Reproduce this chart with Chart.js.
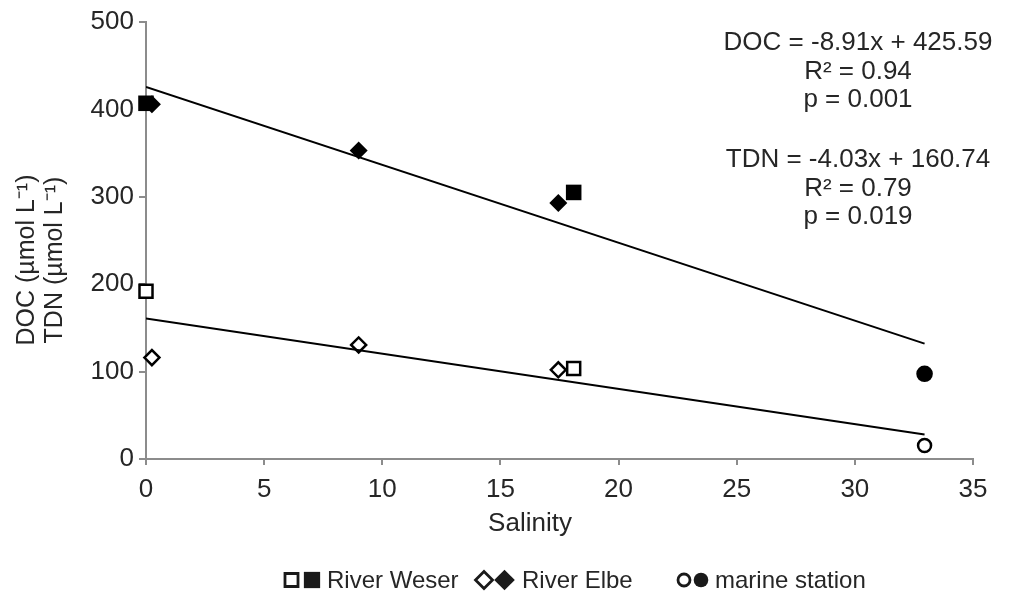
<!DOCTYPE html>
<html>
<head>
<meta charset="utf-8">
<script src="https://cdn.jsdelivr.net/npm/chart.js@4"></script>
<style>
  html, body { margin: 0; padding: 0; background: #fff; }
  #wrap { width: 1016px; height: 593px; }
</style>
</head>
<body>
<div id="wrap"><canvas id="salinityChart"></canvas></div>
<script>
  // ── Data ──────────────────────────────────────────────────────────────────
  // Salinity on x; DOC (filled marks) and TDN (open marks) in µmol/L on y.
  const salinityWeser  = [0, 18.1];
  const docWeser       = [407, 305];
  const tdnWeser       = [192, 103.5];

  const salinityElbe   = [0.25, 9.0, 17.45];
  const docElbe        = [406, 353, 293];
  const tdnElbe        = [116, 130.5, 102];

  const salinityMarine = [32.95];
  const docMarine      = [97.5];
  const tdnMarine      = [15.5];

  // Regression lines: start/end points as drawn
  const fitSalinity = [0, 32.95];
  const docFit      = [425.6, 132];
  const tdnFit      = [160.7, 28];

  const xTicks = [0, 5, 10, 15, 20, 25, 30, 35];
  const yTicks = [0, 100, 200, 300, 400, 500];

  const legendLabels = ["River Weser", "River Elbe", "marine station"];
  const legendStyles = ["rect", "rectRot", "circle"];

  const docNote = ["DOC = -8.91x + 425.59", "R² = 0.94", "p = 0.001"];
  const tdnNote = ["TDN = -4.03x + 160.74", "R² = 0.79", "p = 0.019"];

  const xTitle = "Salinity";
  const yTitle = ["DOC (µmol L⁻¹)", "TDN (µmol L⁻¹)"];

  // ── Helpers ───────────────────────────────────────────────────────────────
  const pts = (xs, ys) => xs.map((x, i) => ({ x: x, y: ys[i] }));
  const FONT = "'Liberation Sans', Arial, sans-serif";
  const TEXT = "#262626";
  const AXIS = "#8c8c8c";

  // marker presets: open (white fill, black outline) vs filled (black)
  const openMark = (style, r) => ({
    pointStyle: style, pointRadius: r, pointBackgroundColor: "#fff",
    pointBorderColor: "#000", pointBorderWidth: 2.5, showLine: false, clip: false
  });
  const fillMark = (style, r) => ({
    pointStyle: style, pointRadius: r, pointBackgroundColor: "#000",
    pointBorderColor: "#000", pointBorderWidth: 0, showLine: false, clip: false
  });
  const sizes = { rect: [9.2, 11], rectRot: [7.5, 9], circle: [6.5, 8.3] };

  // ── Text overlay: axis titles, regression notes, two-symbol legend ───────
  const overlay = {
    id: "overlay",
    afterDraw(chart) {
      const ctx = chart.ctx;
      ctx.save();
      ctx.fillStyle = TEXT;
      ctx.textAlign = "center";
      ctx.textBaseline = "middle";

      // x title
      ctx.font = "26px " + FONT;
      ctx.fillText(xTitle, 530, 524);

      // y title, rotated, two lines
      ctx.font = "25px " + FONT;
      ctx.save();
      ctx.translate(27, 260);
      ctx.rotate(-Math.PI / 2);
      ctx.fillText(yTitle[0], 0, 0);
      ctx.translate(0, 28);
      ctx.fillText(yTitle[1], 0, 0);
      ctx.restore();

      // regression notes, top right
      ctx.font = "26px " + FONT;
      docNote.forEach((t, i) => ctx.fillText(t, 858, 43 + i * 28.5));
      tdnNote.forEach((t, i) => ctx.fillText(t, 858, 160 + i * 28.5));

      // legend: open + filled symbol, then label
      const openX = [291.5, 484, 684];
      const fillX = [312, 504.5, 701];
      const textX = [327, 522, 715];
      const ly = 580;
      const legSize = { rect: [9.2, 11.5], rectRot: [8.5, 10.3], circle: [6, 7.3] };
      ctx.font = "24px " + FONT;
      ctx.textAlign = "left";
      legendLabels.forEach((lab, i) => {
        const st = legendStyles[i];
        ctx.fillStyle = "#fff";
        ctx.strokeStyle = "#1a1a1a";
        ctx.lineWidth = 2.8;
        Chart.helpers.drawPoint(ctx, { pointStyle: st, radius: legSize[st][0], borderWidth: 2.8, rotation: 0 }, openX[i], ly);
        ctx.fillStyle = "#1a1a1a";
        Chart.helpers.drawPoint(ctx, { pointStyle: st, radius: legSize[st][1], borderWidth: 0, rotation: 0 }, fillX[i], ly);
        ctx.fillStyle = TEXT;
        ctx.fillText(lab, textX[i], ly + 1);
      });
      ctx.restore();
    }
  };

  // ── Chart ─────────────────────────────────────────────────────────────────
  const ctx = document.getElementById("salinityChart").getContext("2d");
  new Chart(ctx, {
    type: "scatter",
    data: {
      datasets: [
        { label: "DOC fit", data: pts(fitSalinity, docFit), showLine: true, borderColor: "#000",
          borderWidth: 2, pointRadius: 0, fill: false },
        { label: "TDN fit", data: pts(fitSalinity, tdnFit), showLine: true, borderColor: "#000",
          borderWidth: 2, pointRadius: 0, fill: false },
        Object.assign({ label: "Weser TDN", data: pts(salinityWeser, tdnWeser) }, openMark("rect", sizes.rect[0])),
        Object.assign({ label: "Elbe TDN", data: pts(salinityElbe, tdnElbe) }, openMark("rectRot", sizes.rectRot[0])),
        Object.assign({ label: "Marine TDN", data: pts(salinityMarine, tdnMarine) }, openMark("circle", sizes.circle[0])),
        Object.assign({ label: "Elbe DOC", data: pts(salinityElbe, docElbe) }, fillMark("rectRot", sizes.rectRot[1])),
        Object.assign({ label: "Weser DOC", data: pts(salinityWeser, docWeser) }, fillMark("rect", sizes.rect[1])),
        Object.assign({ label: "Marine DOC", data: pts(salinityMarine, docMarine) }, fillMark("circle", sizes.circle[1]))
      ]
    },
    options: {
      responsive: true,
      maintainAspectRatio: false,
      animation: false,
      events: [],
      layout: { padding: { top: 22, right: 43, bottom: 0, left: 0 } },
      plugins: { legend: { display: false }, tooltip: { enabled: false } },
      scales: {
        x: {
          type: "linear",
          min: 0, max: 35,
          afterFit: (s) => { s.height = 134; },
          afterBuildTicks: (s) => { s.ticks = xTicks.map(v => ({ value: v })); },
          grid: { drawOnChartArea: false, drawTicks: true, tickLength: 6, color: AXIS, lineWidth: 2 },
          border: { color: AXIS, width: 2 },
          ticks: { color: TEXT, font: { family: FONT, size: 26 }, padding: 9, maxRotation: 0 }
        },
        y: {
          type: "linear",
          min: 0, max: 500,
          afterFit: (s) => { s.width = 146; },
          afterBuildTicks: (s) => { s.ticks = yTicks.map(v => ({ value: v })); },
          grid: { drawOnChartArea: false, drawTicks: true, tickLength: 7, color: AXIS, lineWidth: 2 },
          border: { color: AXIS, width: 2 },
          ticks: { color: TEXT, font: { family: FONT, size: 26 }, padding: 5 }
        }
      }
    },
    plugins: [overlay]
  });
</script>
</body>
</html>
